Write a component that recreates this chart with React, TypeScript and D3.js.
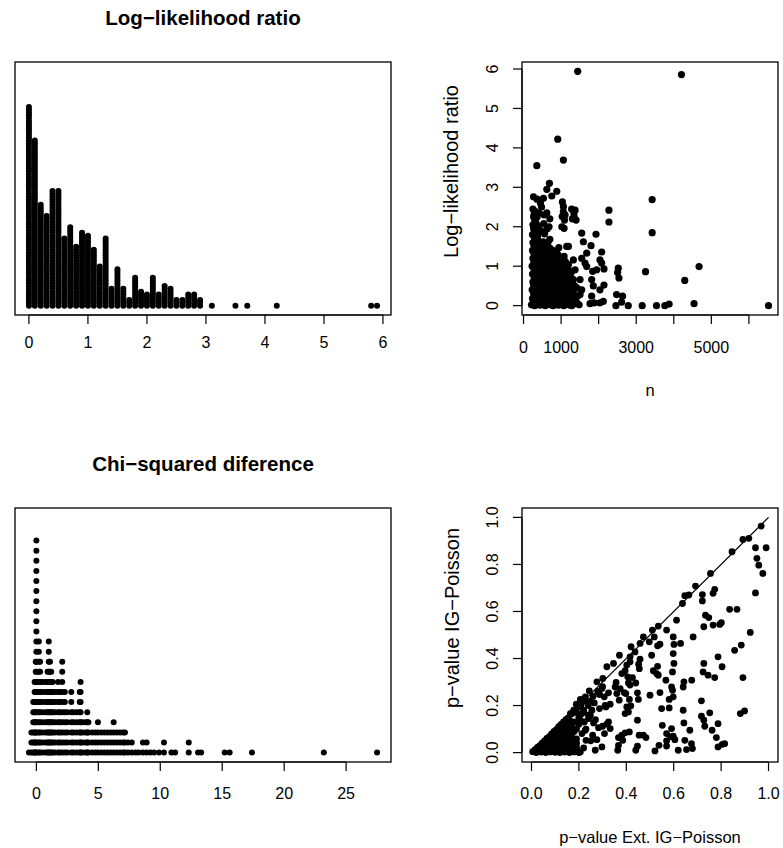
import React from "react";
import * as d3 from "d3";

// ---------- Panel 1: stacked dot plot of log-likelihood ratio (rounded to 0.1) ----------
const llrValues = [
  0.0, 0.1, 0.2, 0.3, 0.4, 0.5, 0.6, 0.7, 0.8, 0.9, 1.0, 1.1, 1.2, 1.3, 1.4, 1.5, 1.6, 1.7, 1.8, 1.9,
  2.0, 2.1, 2.2, 2.3, 2.4, 2.5, 2.6, 2.7, 2.8, 2.9, 3.1, 3.5, 3.7, 4.2, 5.8, 5.9,
];
const llrCounts = [
  72, 60, 37, 33, 42, 42, 25, 29, 22, 27, 26, 21, 15, 25, 7, 14, 7, 3, 11, 6,
  5, 11, 5, 8, 7, 3, 3, 5, 5, 3, 1, 1, 1, 1, 1, 1,
];
const llrTicks = [0, 1, 2, 3, 4, 5, 6];

// ---------- Panel 3: stacked dot plot of chi-squared difference ----------
const chiValues = [
  -0.6, -0.4, -0.25, -0.14, -0.05, 0, 0.2, 0.3, 0.5, 0.75, 0.9, 1.0, 1.1, 1.2, 1.32, 1.5, 1.75, 1.9, 2.09, 2.3,
  2.5, 2.82, 3.0, 3.25, 3.5, 3.57, 3.75, 4.0, 4.11, 4.2, 4.5, 4.75, 4.97, 5.25, 5.5, 5.75, 6.0, 6.24, 6.5, 6.75,
  7.0, 7.15, 7.4, 7.7, 8.0, 8.25, 8.6, 8.9, 9.2, 9.5, 9.9, 10.3, 10.9, 11.2, 12.3, 13.05, 13.3, 15.2, 15.6, 17.4,
  23.2, 27.5,
];
const chiCounts = [
  1, 3, 6, 8, 10, 22, 12, 10, 8, 8, 9, 12, 10, 9, 8, 7, 8, 7, 10, 7,
  5, 7, 5, 5, 7, 8, 4, 4, 5, 4, 3, 3, 4, 3, 3, 3, 3, 4, 3, 3,
  3, 3, 2, 2, 1, 1, 2, 2, 1, 1, 1, 2, 1, 1, 2, 1, 1, 1, 1, 1,
  1, 1,
];
const chiTicks = [0, 5, 10, 15, 20, 25];

// ---------- Panel 2: log-likelihood ratio vs n ----------
const llrVsN: [number, number][] = [
  [1443, 5.94], [4204, 5.86], [911, 4.22], [1062, 3.69], [354, 3.55], [690, 3.1], [620, 2.95], [885, 2.9],
  [265, 2.76], [531, 2.72], [752, 2.78], [1035, 2.63], [1062, 2.51], [1372, 2.42], [1345, 2.26], [1106, 2.3],
  [2274, 2.42], [2274, 2.12], [3425, 2.69], [3425, 1.85], [1549, 1.84], [1929, 1.81], [1593, 1.62], [1797, 1.52],
  [1195, 1.5], [1682, 1.33], [2080, 1.36], [2035, 1.16], [2142, 0.93], [2080, 1.08], [2522, 0.95], [2505, 0.84],
  [2540, 0.7], [3248, 0.86], [4292, 0.64], [4673, 0.99], [2478, 0.28], [2637, 0.24], [2611, 0.09], [2460, 0.0],
  [2788, 0.0], [3159, 0.0], [3540, 0.0], [3761, 0.0], [3876, 0.04], [4540, 0.05], [6522, 0.0], [2035, 0.07],
  [2124, 0.11], [2142, 0.52], [2035, 0.4], [1858, 0.5], [1814, 0.66], [1947, 0.91], [1840, 0.87], [1814, 0.24],
  [1770, 0.05], [1885, 0.07], [1505, 0.28], [1505, 0.66], [1549, 0.4], [1549, 1.2], [1637, 1.08], [1682, 0.99],
  [1327, 1.16], [1372, 0.91], [1327, 0.66], [1195, 1.04], [1150, 1.5],
  [1020, 2.0], [1080, 1.96], [1090, 2.17], [1060, 2.38], [1030, 2.26], [1300, 2.2], [1340, 2.35], [1280, 2.45],
  [1400, 2.17], [620, 2.35], [700, 2.2], [450, 2.6], [360, 2.7], [480, 2.5],
  [212, 0.02], [300, 0.0], [370, 0.04], [440, 0.01], [510, 0.03], [580, 0.0], [650, 0.05], [720, 0.02], [790, 0.0],
  [860, 0.04], [930, 0.01], [1000, 0.03], [1070, 0.0], [1140, 0.05], [1210, 0.02], [1280, 0.0], [1350, 0.04], [1420, 0.06],
  [265, 0.1], [335, 0.12], [405, 0.08], [475, 0.1], [545, 0.11], [615, 0.09], [685, 0.12], [755, 0.1], [825, 0.08],
  [895, 0.11], [965, 0.1], [1035, 0.09], [1105, 0.12], [1175, 0.1], [1245, 0.08], [1315, 0.11], [1400, 0.1], [1480, 0.02],
  [240, 0.18], [320, 0.22], [400, 0.15], [480, 0.25], [560, 0.2], [640, 0.16], [720, 0.27], [800, 0.19], [880, 0.23],
  [960, 0.15], [1040, 0.26], [1120, 0.2], [1200, 0.17], [1290, 0.25], [1380, 0.13],
  [270, 0.3], [350, 0.32], [430, 0.29], [510, 0.33], [590, 0.3], [670, 0.31], [750, 0.34], [830, 0.3], [910, 0.32],
  [990, 0.29], [1070, 0.33], [1150, 0.3], [1230, 0.32], [1310, 0.3], [1450, 0.25],
  [230, 0.4], [310, 0.45], [390, 0.38], [470, 0.48], [550, 0.42], [630, 0.36], [710, 0.47], [790, 0.4], [870, 0.44],
  [950, 0.37], [1030, 0.49], [1110, 0.41], [1190, 0.35], [1260, 0.47], [1330, 0.39], [1420, 0.45],
  [270, 0.52], [350, 0.5], [430, 0.53], [510, 0.51], [590, 0.5], [670, 0.52], [750, 0.54], [830, 0.5], [910, 0.53],
  [990, 0.51], [1070, 0.5], [1150, 0.54], [1230, 0.52], [1360, 0.5],
  [250, 0.6], [330, 0.65], [410, 0.57], [490, 0.68], [570, 0.62], [650, 0.55], [730, 0.66], [810, 0.6], [890, 0.7],
  [970, 0.58], [1050, 0.64], [1130, 0.69], [1210, 0.56], [1300, 0.62],
  [285, 0.72], [365, 0.7], [445, 0.73], [525, 0.71], [605, 0.7], [685, 0.74], [765, 0.72], [845, 0.7], [925, 0.73],
  [1005, 0.71], [1085, 0.74], [1170, 0.72], [1250, 0.73],
  [240, 0.8], [320, 0.85], [400, 0.78], [480, 0.88], [560, 0.82], [640, 0.76], [720, 0.9], [800, 0.84], [880, 0.79],
  [960, 0.87], [1040, 0.81], [1120, 0.9], [1200, 0.76], [1280, 0.86],
  [280, 0.92], [360, 0.9], [440, 0.93], [520, 0.91], [600, 0.9], [680, 0.94], [760, 0.92], [840, 0.9], [920, 0.93],
  [1000, 0.91], [1060, 0.93],
  [230, 1.0], [310, 1.05], [390, 0.97], [470, 1.08], [550, 1.02], [630, 0.96], [710, 1.1], [790, 1.03], [870, 0.98],
  [950, 1.07], [1030, 1.0], [1110, 1.12], [1180, 0.95],
  [280, 1.1], [360, 1.12], [440, 1.1], [520, 1.13], [600, 1.1], [680, 1.12], [760, 1.1], [860, 1.12], [960, 1.1],
  [250, 1.2], [330, 1.25], [410, 1.17], [490, 1.28], [570, 1.22], [650, 1.15], [740, 1.27], [830, 1.2], [910, 1.3],
  [990, 1.18], [1080, 1.25],
  [280, 1.32], [360, 1.35], [440, 1.3], [520, 1.34], [600, 1.3], [680, 1.33], [820, 1.32],
  [240, 1.4], [310, 1.45], [390, 1.38], [460, 1.48], [540, 1.42], [620, 1.36], [700, 1.46], [780, 1.4], [870, 1.35], [940, 1.47],
  [280, 1.52], [360, 1.5], [440, 1.55], [290, 1.72], [370, 1.7],
  [250, 1.6], [330, 1.65], [400, 1.58], [520, 1.62], [580, 1.55], [650, 1.6], [700, 1.68],
  [240, 1.8], [310, 1.85], [380, 1.78], [460, 1.9], [560, 1.82], [630, 1.95], [680, 2.0],
  [270, 1.95], [350, 1.92], [300, 2.15], [270, 2.25],
  [250, 2.05], [330, 2.1], [390, 2.02], [540, 2.08], [280, 2.3], [360, 2.25], [410, 2.35], [550, 2.3], [300, 2.4], [250, 2.45],
];
const nTicks = [0, 1000, 2000, 3000, 4000, 5000, 6000];
const nTickLabels = ["0", "1000", "", "3000", "", "5000", ""];
const llrAxisTicks = [0, 1, 2, 3, 4, 5, 6];

// ---------- Panel 4: p-value IG-Poisson vs p-value Ext. IG-Poisson ----------
const pvalPairs: [number, number][] = [
  [0.969, 0.963], [0.892, 0.906], [0.917, 0.911], [0.846, 0.854], [0.755, 0.762], [0.692, 0.708], [0.664, 0.67],
  [0.647, 0.667], [0.637, 0.634], [0.535, 0.538], [0.51, 0.521], [0.472, 0.492], [0.458, 0.464], [0.42, 0.45],
  [0.437, 0.428], [0.416, 0.407], [0.371, 0.414], [0.346, 0.379], [0.318, 0.365], [0.301, 0.315], [0.276, 0.301],
  [0.244, 0.262], [0.227, 0.237], [0.206, 0.226], [0.189, 0.206], [0.178, 0.18], [0.164, 0.166],
  [0.99, 0.871], [0.945, 0.871], [0.951, 0.826], [0.959, 0.797], [0.976, 0.762], [0.945, 0.679], [0.923, 0.511],
  [0.885, 0.457], [0.857, 0.435], [0.892, 0.319], [0.899, 0.177], [0.881, 0.166], [0.867, 0.609], [0.836, 0.609],
  [0.801, 0.552], [0.794, 0.545], [0.787, 0.407], [0.804, 0.365], [0.787, 0.123], [0.78, 0.064], [0.787, 0.024],
  [0.805, 0.035], [0.815, 0.038],
  [0.773, 0.694], [0.766, 0.677], [0.721, 0.672], [0.721, 0.645], [0.727, 0.535], [0.734, 0.584], [0.748, 0.574],
  [0.766, 0.542], [0.682, 0.492], [0.727, 0.379], [0.724, 0.343], [0.745, 0.329], [0.773, 0.319], [0.717, 0.22],
  [0.717, 0.155], [0.727, 0.138], [0.752, 0.169], [0.731, 0.112], [0.762, 0.095], [0.675, 0.038], [0.679, 0.017],
  [0.654, 0.013], [0.668, 0.095], [0.643, 0.126], [0.647, 0.052], [0.619, 0.01], [0.64, 0.18], [0.64, 0.279],
  [0.643, 0.301], [0.676, 0.308], [0.612, 0.563], [0.629, 0.464], [0.598, 0.492], [0.601, 0.46], [0.598, 0.421],
  [0.601, 0.379], [0.595, 0.343], [0.591, 0.279], [0.595, 0.265], [0.581, 0.226], [0.598, 0.237], [0.581, 0.19],
  [0.591, 0.102], [0.598, 0.07], [0.605, 0.055], [0.587, 0.067], [0.57, 0.081], [0.57, 0.521], [0.542, 0.461],
  [0.532, 0.454], [0.528, 0.336], [0.535, 0.329], [0.514, 0.348], [0.532, 0.367], [0.567, 0.308], [0.542, 0.255],
  [0.549, 0.187], [0.552, 0.116], [0.57, 0.05], [0.57, 0.028], [0.521, 0.007], [0.538, 0.031], [0.5, 0.244],
  [0.507, 0.414], [0.497, 0.471], [0.518, 0.492], [0.458, 0.397], [0.455, 0.357], [0.452, 0.376], [0.44, 0.296],
  [0.447, 0.254], [0.451, 0.226], [0.447, 0.138], [0.454, 0.074], [0.472, 0.074], [0.483, 0.064], [0.447, 0.027],
  [0.44, 0.01], [0.406, 0.322], [0.409, 0.296], [0.426, 0.319], [0.416, 0.287], [0.398, 0.251], [0.391, 0.255],
  [0.413, 0.226], [0.419, 0.199], [0.402, 0.194], [0.409, 0.173], [0.395, 0.166], [0.395, 0.084], [0.413, 0.088],
  [0.381, 0.074], [0.367, 0.064], [0.385, 0.052], [0.367, 0.031], [0.364, 0.01], [0.37, 0.223], [0.36, 0.251],
  [0.374, 0.272], [0.353, 0.279], [0.357, 0.298], [0.381, 0.336], [0.395, 0.348], [0.402, 0.372], [0.416, 0.386],
  [0.325, 0.254], [0.332, 0.206], [0.311, 0.201], [0.314, 0.194], [0.287, 0.187], [0.307, 0.237], [0.297, 0.272],
  [0.287, 0.247], [0.265, 0.211], [0.255, 0.18], [0.248, 0.159], [0.262, 0.126], [0.283, 0.106], [0.3, 0.112],
  [0.318, 0.121], [0.325, 0.13], [0.297, 0.024], [0.269, 0.01], [0.258, 0.074], [0.276, 0.055], [0.308, 0.081],
  [0.332, 0.102], [0.227, 0.095], [0.23, 0.052], [0.213, 0.166], [0.206, 0.138], [0.223, 0.13], [0.241, 0.145],
  [0.213, 0.081], [0.206, 0.003],
  [0.005, 0.004], [0.015, 0.013], [0.025, 0.022], [0.035, 0.03], [0.045, 0.04], [0.055, 0.05], [0.065, 0.06],
  [0.075, 0.068], [0.085, 0.08], [0.095, 0.09], [0.105, 0.098], [0.115, 0.11], [0.125, 0.12], [0.135, 0.13],
  [0.145, 0.14], [0.155, 0.148], [0.17, 0.165], [0.185, 0.18], [0.2, 0.195], [0.21, 0.205], [0.225, 0.22],
  [0.02, 0.0], [0.04, 0.002], [0.06, 0.0], [0.08, 0.003], [0.1, 0.001], [0.12, 0.0], [0.14, 0.002], [0.16, 0.0],
  [0.18, 0.003], [0.2, 0.0],
  [0.03, 0.02], [0.05, 0.018], [0.07, 0.022], [0.09, 0.02], [0.11, 0.019], [0.13, 0.021], [0.15, 0.02], [0.17, 0.018], [0.19, 0.022],
  [0.05, 0.04], [0.07, 0.042], [0.09, 0.038], [0.11, 0.041], [0.13, 0.04], [0.15, 0.039], [0.17, 0.042], [0.19, 0.04],
  [0.07, 0.06], [0.09, 0.062], [0.11, 0.058], [0.13, 0.061], [0.15, 0.06], [0.17, 0.06], [0.19, 0.058],
  [0.09, 0.08], [0.11, 0.082], [0.13, 0.079], [0.15, 0.081], [0.17, 0.08],
  [0.11, 0.1], [0.13, 0.102], [0.15, 0.098], [0.17, 0.1], [0.19, 0.1],
  [0.13, 0.12], [0.15, 0.122], [0.17, 0.118], [0.18, 0.13],
  [0.02, 0.01], [0.06, 0.03], [0.1, 0.05], [0.14, 0.07], [0.18, 0.09], [0.2, 0.12], [0.16, 0.14], [0.2, 0.15],
  [0.22, 0.18], [0.24, 0.2], [0.26, 0.24], [0.28, 0.26], [0.3, 0.28], [0.25, 0.22], [0.23, 0.1], [0.25, 0.05],
  [0.22, 0.02], [0.24, 0.16], [0.27, 0.14], [0.19, 0.17],
];
const pTicks = [0, 0.2, 0.4, 0.6, 0.8, 1.0];
const pTickLabels = ["0.0", "0.2", "0.4", "0.6", "0.8", "1.0"];
const diagonal: [number, number][] = [[0, 0], [1, 1]];

// ---------- layout ----------
const W = 783;
const H = 848;
const FONT = "'Liberation Sans', Arial, Helvetica, sans-serif";
const TICK_FS = 16;
const XLAB_FS = 16.5;
const YLAB_FS = 20;
const TITLE_FS = 20.5;
const TICK_LEN = 9;
const YLAB_SHIFT = -17;
const B1 = { x0: 15, x1: 391, y0: 62, y1: 315 };
const B2 = { x0: 522, x1: 778, y0: 62, y1: 315 };
const B3 = { x0: 15, x1: 391, y0: 508, y1: 762 };
const B4 = { x0: 522, x1: 778, y0: 508, y1: 762 };
const STACK_TOP_1 = 84.7;
const STACK_TOP_3 = 24.3;

const pad = (e: [number, number]): [number, number] => {
  const d = (e[1] - e[0]) * 0.04;
  return [e[0] - d, e[1] + d];
};

type Box = { x0: number; x1: number; y0: number; y1: number };

function Frame({ b }: { b: Box }) {
  return (
    <rect x={b.x0} y={b.y0} width={b.x1 - b.x0} height={b.y1 - b.y0} fill="none" stroke="#000" strokeWidth={1.3} />
  );
}

function XAxis({ scale, b, ticks, labels, labelCy }: any) {
  const first = scale(ticks[0]);
  const last = scale(ticks[ticks.length - 1]);
  return (
    <g>
      <line x1={first} x2={last} y1={b.y1} y2={b.y1} stroke="#000" strokeWidth={1.2} />
      {ticks.map((t: number, i: number) => (
        <g key={i}>
          <line x1={scale(t)} x2={scale(t)} y1={b.y1} y2={b.y1 + TICK_LEN} stroke="#000" strokeWidth={1.2} />
          {labels[i] ? (
            <text x={scale(t)} y={labelCy + TICK_FS * 0.36} textAnchor="middle" fontSize={TICK_FS}>
              {labels[i]}
            </text>
          ) : null}
        </g>
      ))}
    </g>
  );
}

function YAxis({ scale, b, ticks, labels, labelCx }: any) {
  const first = scale(ticks[0]);
  const last = scale(ticks[ticks.length - 1]);
  return (
    <g>
      <line x1={b.x0} x2={b.x0} y1={first} y2={last} stroke="#000" strokeWidth={1.2} />
      {ticks.map((t: number, i: number) => (
        <g key={i}>
          <line x1={b.x0 - TICK_LEN} x2={b.x0} y1={scale(t)} y2={scale(t)} stroke="#000" strokeWidth={1.2} />
          <text
            transform={`translate(${labelCx + TICK_FS * 0.36},${scale(t)}) rotate(-90)`}
            textAnchor="middle"
            fontSize={TICK_FS}
          >
            {labels[i]}
          </text>
        </g>
      ))}
    </g>
  );
}

function stackPoints(values: number[], counts: number[]) {
  const pts: { v: number; k: number }[] = [];
  values.forEach((v, i) => {
    for (let k = 1; k <= counts[i]; k++) pts.push({ v, k });
  });
  return pts;
}

export default function App() {
  // Panel 1
  const x1 = d3.scaleLinear().domain(pad(d3.extent(llrValues) as [number, number])).range([B1.x0, B1.x1]);
  const y1 = d3.scaleLinear().domain(pad([1, STACK_TOP_1])).range([B1.y1, B1.y0]);
  const pts1 = stackPoints(llrValues, llrCounts);

  // Panel 3
  const x3 = d3.scaleLinear().domain(pad(d3.extent(chiValues) as [number, number])).range([B3.x0, B3.x1]);
  const y3 = d3.scaleLinear().domain(pad([1, STACK_TOP_3])).range([B3.y1, B3.y0]);
  const pts3 = stackPoints(chiValues, chiCounts);

  // Panel 2
  const x2 = d3
    .scaleLinear()
    .domain(pad(d3.extent(llrVsN, (d) => d[0]) as [number, number]))
    .range([B2.x0, B2.x1]);
  const y2 = d3
    .scaleLinear()
    .domain(pad(d3.extent(llrVsN, (d) => d[1]) as [number, number]))
    .range([B2.y1, B2.y0]);

  // Panel 4
  const x4 = d3.scaleLinear().domain(pad([0, 1])).range([B4.x0, B4.x1]);
  const y4 = d3.scaleLinear().domain(pad([0, 1])).range([B4.y1, B4.y0]);
  const diagLine = d3
    .line<[number, number]>()
    .x((d) => x4(d[0]))
    .y((d) => y4(d[1]));

  return (
    <svg
      width={W}
      height={H}
      viewBox={`0 0 ${W} ${H}`}
      style={{ position: "absolute", left: 0, top: 0, background: "#fff" }}
      fontFamily={FONT}
    >
      <rect x={0} y={0} width={W} height={H} fill="#fff" />

      {/* Panel 1 */}
      <text x={(B1.x0 + B1.x1) / 2} y={B1.y0 - 37} textAnchor="middle" fontSize={TITLE_FS} fontWeight="bold">
        Log−likelihood ratio
      </text>
      <g>
        {pts1.map((p, i) => (
          <circle key={i} cx={x1(p.v)} cy={y1(p.k)} r={3} fill="#000" />
        ))}
      </g>
      <Frame b={B1} />
      <XAxis scale={x1} b={B1} ticks={llrTicks} labels={llrTicks.map(String)} labelCy={342} />

      {/* Panel 2 */}
      <g>
        {llrVsN.map((d, i) => (
          <circle key={i} cx={x2(d[0])} cy={y2(d[1])} r={3.6} fill="#000" />
        ))}
      </g>
      <Frame b={B2} />
      <XAxis scale={x2} b={B2} ticks={nTicks} labels={nTickLabels} labelCy={347} />
      <YAxis scale={y2} b={B2} ticks={llrAxisTicks} labels={llrAxisTicks.map(String)} labelCx={492} />
      <text x={(B2.x0 + B2.x1) / 2} y={390 + XLAB_FS * 0.36} textAnchor="middle" fontSize={XLAB_FS}>
        n
      </text>
      <text
        transform={`translate(${451 + YLAB_FS * 0.36},${(B2.y0 + B2.y1) / 2 + YLAB_SHIFT}) rotate(-90)`}
        textAnchor="middle"
        fontSize={YLAB_FS}
      >
        Log−likelihood ratio
      </text>

      {/* Panel 3 */}
      <text x={(B3.x0 + B3.x1) / 2} y={B3.y0 - 37} textAnchor="middle" fontSize={TITLE_FS} fontWeight="bold">
        Chi−squared diference
      </text>
      <g>
        {pts3.map((p, i) => (
          <circle key={i} cx={x3(p.v)} cy={y3(p.k)} r={3} fill="#000" />
        ))}
      </g>
      <Frame b={B3} />
      <XAxis scale={x3} b={B3} ticks={chiTicks} labels={chiTicks.map(String)} labelCy={793} />

      {/* Panel 4 */}
      <g>
        {pvalPairs.map((d, i) => (
          <circle key={i} cx={x4(d[0])} cy={y4(d[1])} r={3.4} fill="#000" />
        ))}
      </g>
      <path d={diagLine(diagonal) || ""} fill="none" stroke="#000" strokeWidth={1.3} />
      <Frame b={B4} />
      <XAxis scale={x4} b={B4} ticks={pTicks} labels={pTickLabels} labelCy={793} />
      <YAxis scale={y4} b={B4} ticks={pTicks} labels={pTickLabels} labelCx={492} />
      <text x={(B4.x0 + B4.x1) / 2} y={837 + XLAB_FS * 0.36} textAnchor="middle" fontSize={XLAB_FS}>
        p−value Ext. IG−Poisson
      </text>
      <text
        transform={`translate(${452 + YLAB_FS * 0.36},${(B4.y0 + B4.y1) / 2 + YLAB_SHIFT}) rotate(-90)`}
        textAnchor="middle"
        fontSize={YLAB_FS}
      >
        p−value IG−Poisson
      </text>
    </svg>
  );
}
